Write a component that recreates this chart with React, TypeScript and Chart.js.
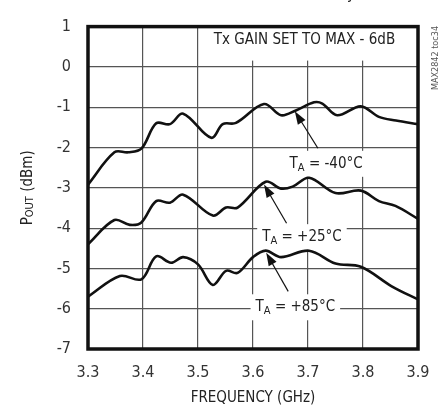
import { useEffect, useRef } from "react";
import { Chart, registerables } from "chart.js";

Chart.register(...registerables);

const FONT = "'Liberation Sans Narrow', 'DejaVu Sans Condensed', 'Arial Narrow', sans-serif";

// T_A = -40°C
const freqM40 = [3.3, 3.348, 3.373, 3.397, 3.424, 3.449, 3.473, 3.524, 3.545, 3.569, 3.62, 3.651, 3.678, 3.711, 3.726, 3.753, 3.796, 3.829, 3.86, 3.9];
const poutM40 = [-2.92, -2.12, -2.12, -2.03, -1.4, -1.42, -1.16, -1.76, -1.42, -1.39, -0.92, -1.2, -1.08, -0.88, -0.91, -1.2, -0.98, -1.24, -1.33, -1.42];

// T_A = +25°C
const freqP25 = [3.3, 3.348, 3.376, 3.397, 3.424, 3.449, 3.473, 3.527, 3.551, 3.572, 3.623, 3.651, 3.672, 3.702, 3.75, 3.796, 3.829, 3.859, 3.9];
const poutP25 = [-4.4, -3.8, -3.92, -3.86, -3.33, -3.37, -3.17, -3.69, -3.49, -3.49, -2.85, -3.02, -2.97, -2.75, -3.13, -3.07, -3.33, -3.45, -3.77];

// T_A = +85°C
const freqP85 = [3.3, 3.358, 3.397, 3.424, 3.451, 3.473, 3.5, 3.527, 3.551, 3.572, 3.6, 3.623, 3.651, 3.702, 3.75, 3.796, 3.853, 3.9];
const poutP85 = [-5.7, -5.19, -5.27, -4.7, -4.86, -4.72, -4.9, -5.41, -5.06, -5.11, -4.72, -4.56, -4.72, -4.56, -4.88, -4.96, -5.45, -5.77];

const xTicks = [3.3, 3.4, 3.5, 3.6, 3.7, 3.8, 3.9];
const yTicks = [-7, -6, -5, -4, -3, -2, -1, 0, 1];

const noteText = "Tx GAIN SET TO MAX - 6dB";
const sideText = "MAX2842 toc34";
const xTitle = "FREQUENCY (GHz)";
const labels = [
  { main: "T", sub: "A", rest: " = -40°C", at: [3.733, -2.38], from: [3.718, -2.02], to: [3.676, -1.1] },
  { main: "T", sub: "A", rest: " = +25°C", at: [3.689, -4.2], from: [3.661, -3.88], to: [3.62, -2.92] },
  { main: "T", sub: "A", rest: " = +85°C", at: [3.677, -5.94], from: [3.664, -5.57], to: [3.624, -4.61] },
];

const F_MAIN = 15;
const F_SUB = 11;

function mk(xs: number[], ys: number[]) {
  return xs.map((x, i) => ({ x, y: ys[i] }));
}

function labelWidth(ctx: CanvasRenderingContext2D, l: any) {
  ctx.save();
  ctx.font = `${F_MAIN}px ${FONT}`;
  let w = ctx.measureText(l.main).width + ctx.measureText(l.rest).width;
  ctx.font = `${F_SUB}px ${FONT}`;
  w += ctx.measureText(l.sub).width;
  ctx.restore();
  return w;
}

const deco = {
  id: "deco",
  beforeDatasetsDraw(chart: any) {
    const { ctx, chartArea: a, scales } = chart;
    const xs = scales.x, ys = scales.y;
    ctx.save();
    ctx.fillStyle = "#fff";
    ctx.font = `${F_MAIN}px ${FONT}`;
    const nw = ctx.measureText(noteText).width;
    const ncx = 304.5;
    ctx.fillRect(ncx - nw / 2 - 7, a.top, nw + 14, 34);
    labels.forEach((l) => {
      const w = labelWidth(ctx, l);
      const cx = xs.getPixelForValue(l.at[0]);
      const cy = ys.getPixelForValue(l.at[1]);
      ctx.fillStyle = "#fff";
      ctx.fillRect(cx - w / 2 - 5, cy - 12, w + 10, 26);
    });
    ctx.restore();
  },
  afterDraw(chart: any) {
    const { ctx, chartArea: a, scales } = chart;
    const xs = scales.x, ys = scales.y;
    ctx.save();
    ctx.strokeStyle = "#111";
    ctx.lineWidth = 3.5;
    ctx.strokeRect(a.left, a.top, a.right - a.left, a.bottom - a.top);

    ctx.fillStyle = "#222";
    ctx.textBaseline = "middle";
    ctx.textAlign = "center";
    ctx.font = `${F_MAIN}px ${FONT}`;
    ctx.fillText(noteText, 304.5, 40);

    labels.forEach((l) => {
      const w = labelWidth(ctx, l);
      const cx = xs.getPixelForValue(l.at[0]);
      const cy = ys.getPixelForValue(l.at[1]);
      let x = cx - w / 2;
      ctx.textAlign = "left";
      ctx.textBaseline = "alphabetic";
      const base = cy + 5;
      ctx.fillStyle = "#222";
      ctx.font = `${F_MAIN}px ${FONT}`;
      ctx.fillText(l.main, x, base);
      x += ctx.measureText(l.main).width;
      ctx.font = `${F_SUB}px ${FONT}`;
      ctx.fillText(l.sub, x, base + 3);
      x += ctx.measureText(l.sub).width;
      ctx.font = `${F_MAIN}px ${FONT}`;
      ctx.fillText(l.rest, x, base);

      const x1 = xs.getPixelForValue(l.from[0]);
      const y1 = ys.getPixelForValue(l.from[1]);
      const x2 = xs.getPixelForValue(l.to[0]);
      const y2 = ys.getPixelForValue(l.to[1]);
      const ang = Math.atan2(y2 - y1, x2 - x1);
      const hl = 13, hw = 4.5;
      ctx.strokeStyle = "#111";
      ctx.lineWidth = 1.2;
      ctx.beginPath();
      ctx.moveTo(x1, y1);
      ctx.lineTo(x2 - Math.cos(ang) * hl * 0.8, y2 - Math.sin(ang) * hl * 0.8);
      ctx.stroke();
      ctx.fillStyle = "#111";
      ctx.beginPath();
      ctx.moveTo(x2, y2);
      const bx = x2 - Math.cos(ang) * hl, by = y2 - Math.sin(ang) * hl;
      ctx.lineTo(bx + Math.sin(ang) * hw, by - Math.cos(ang) * hw);
      ctx.lineTo(bx - Math.sin(ang) * hw, by + Math.cos(ang) * hw);
      ctx.closePath();
      ctx.fill();
    });

    // y title
    ctx.save();
    ctx.fillStyle = "#222";
    ctx.translate(26, (a.top + a.bottom) / 2);
    ctx.rotate(-Math.PI / 2);
    ctx.font = `${F_MAIN}px ${FONT}`;
    const wP = ctx.measureText("P").width;
    const wR = ctx.measureText(" (dBm)").width;
    ctx.font = `${F_SUB}px ${FONT}`;
    const wO = ctx.measureText("OUT").width;
    let tx = -(wP + wO + wR) / 2;
    ctx.textAlign = "left";
    ctx.textBaseline = "alphabetic";
    ctx.font = `${F_MAIN}px ${FONT}`;
    ctx.fillText("P", tx, 6);
    tx += wP;
    ctx.font = `${F_SUB}px ${FONT}`;
    ctx.fillText("OUT", tx, 7);
    tx += wO;
    ctx.font = `${F_MAIN}px ${FONT}`;
    ctx.fillText(" (dBm)", tx, 6);
    ctx.restore();

    // x title
    ctx.fillStyle = "#222";
    ctx.textAlign = "center";
    ctx.textBaseline = "middle";
    ctx.font = `${F_MAIN}px ${FONT}`;
    ctx.fillText(xTitle, (a.left + a.right) / 2, 398);

    // side text
    ctx.save();
    ctx.translate(436, 58);
    ctx.rotate(-Math.PI / 2);
    ctx.font = `9px ${FONT}`;
    ctx.fillStyle = "#555";
    ctx.fillText(sideText, 0, 0);
    ctx.restore();

    // clipped title descender
    ctx.font = `${F_MAIN}px ${FONT}`;
    ctx.textAlign = "center";
    ctx.textBaseline = "alphabetic";
    ctx.fillStyle = "#222";
    ctx.fillText("y", 351, -1.5);
    ctx.restore();
  },
};

export default function App() {
  const ref = useRef<HTMLCanvasElement>(null);
  useEffect(() => {
    const canvas = ref.current!;
    const line = (xs: number[], ys: number[]) => ({
      data: mk(xs, ys),
      borderColor: "#111",
      borderWidth: 2.6,
      pointRadius: 0,
      fill: false,
      tension: 0.35,
    });
    const chart = new Chart(canvas, {
      type: "line",
      data: {
        datasets: [line(freqM40, poutM40), line(freqP25, poutP25), line(freqP85, poutP85)],
      },
      options: {
        responsive: false,
        animation: false,
        devicePixelRatio: 1,
        layout: { padding: { top: 18, right: 27, left: 0, bottom: 0 } },
        plugins: { legend: { display: false }, tooltip: { enabled: false } },
        scales: {
          x: {
            type: "linear",
            min: 3.3,
            max: 3.9,
            afterBuildTicks: (s: any) => {
              s.ticks = xTicks.map((v) => ({ value: v }));
            },
            afterFit: (s: any) => {
              s.height = 60;
            },
            ticks: {
              callback: (v: any) => Number(v).toFixed(1),
              font: { family: FONT, size: 16 },
              color: "#333",
              padding: 14,
              maxRotation: 0,
              autoSkip: false,
            },
            grid: { color: "#555", lineWidth: 1.2, drawTicks: false },
            border: { display: false },
          },
          y: {
            type: "linear",
            min: -7,
            max: 1,
            afterBuildTicks: (s: any) => {
              s.ticks = yTicks.map((v) => ({ value: v }));
            },
            afterFit: (s: any) => {
              s.width = 88;
            },
            ticks: {
              callback: (v: any) => String(v),
              font: { family: FONT, size: 16 },
              color: "#333",
              padding: 17,
              autoSkip: false,
            },
            grid: { color: "#555", lineWidth: 1.2, drawTicks: false },
            border: { display: false },
          },
        },
      },
      plugins: [deco],
    });
    return () => chart.destroy();
  }, []);
  return (
    <div style={{ position: "fixed", left: 0, top: 0, width: 445, height: 409 }}>
      <canvas ref={ref} width={445} height={409} style={{ display: "block", width: 445, height: 409 }} />
    </div>
  );
}
